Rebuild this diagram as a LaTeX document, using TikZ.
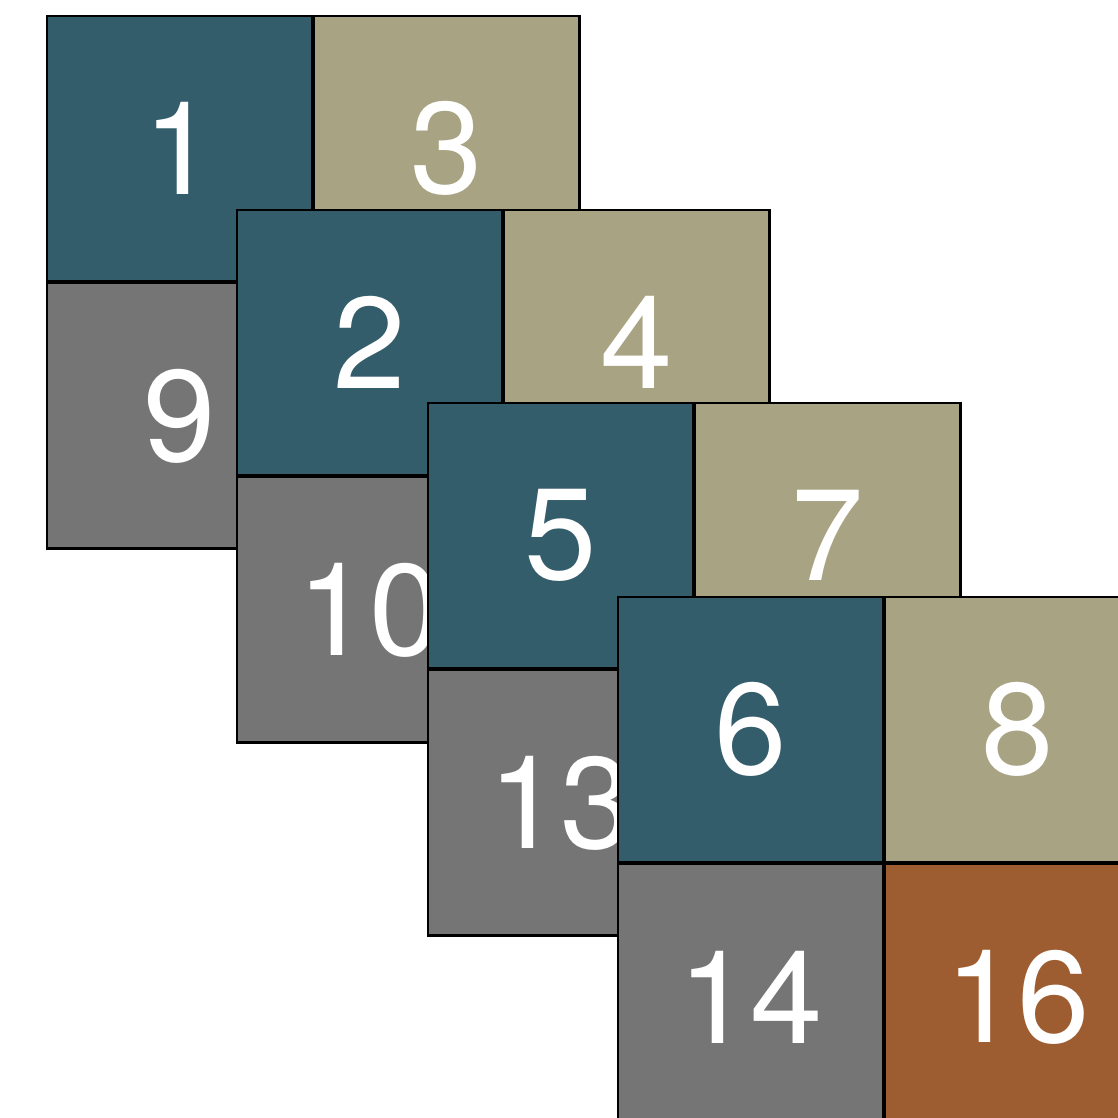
\documentclass[tikz,border=0pt]{standalone}
\usepackage{fontspec}
\setmainfont{TeX Gyre Heros}
\definecolor{tileteal}{RGB}{51,93,107}
\definecolor{tilekhaki}{RGB}{168,163,131}
\definecolor{tilegray}{RGB}{117,117,117}
\definecolor{tilebrown}{RGB}{158,93,49}
\usetikzlibrary{positioning}

\begin{document}
\begin{tikzpicture}[
    x=0.01cm, y=-0.01cm,
    cell/.style={rectangle, draw=black, line width=0.6pt, inner sep=0pt,
                 minimum size=2.65cm, anchor=north west, text=white,
                 font=\fontsize{37}{37}\selectfont},
    tealcell/.style={cell, fill=tileteal},
    khakicell/.style={cell, fill=tilekhaki},
    graycell/.style={cell, fill=tilegray},
    browncell/.style={cell, fill=tilebrown}
  ]
    \path[use as bounding box, clip] (0,0) rectangle (1118,1117);

    % first block
    \node[tealcell] (c1) at (46,15) {1};
    \node[khakicell] (c3) at (c1.north east) {3};
    \node[graycell] (c9) at (c1.south west) {9};

    % second block
    \node[tealcell] (c2) at (236,209) {2};
    \node[khakicell] (c4) at (c2.north east) {4};
    \node[graycell] (c10) at (c2.south west) {10};

    % third block
    \node[tealcell] (c5) at (427,402) {5};
    \node[khakicell] (c7) at (c5.north east) {7};
    \node[graycell] (c13) at (c5.south west) {13};

    % last block, all four tiles
    \node[tealcell] (c6) at (617,596) {6};
    \node[khakicell] (c8) at (c6.north east) {8};
    \node[graycell] (c14) at (c6.south west) {14};
    \node[browncell] (c16) at (c6.south east) {16};
  \end{tikzpicture}
\end{document}
